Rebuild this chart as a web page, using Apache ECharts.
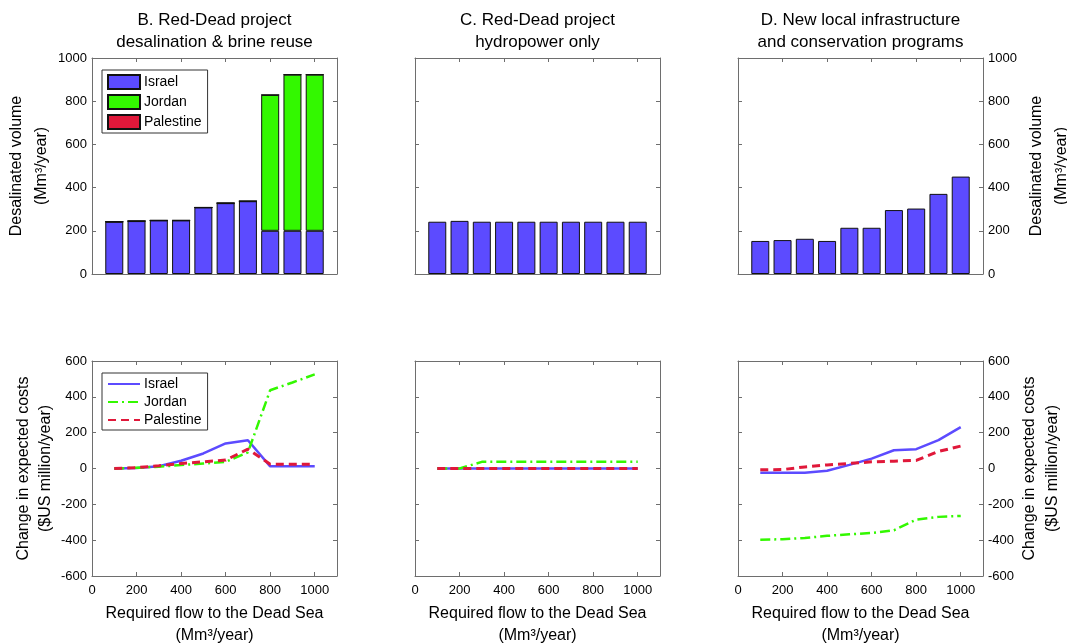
<!DOCTYPE html>
<html>
<head>
<meta charset="utf-8">
<script src="https://cdn.jsdelivr.net/npm/echarts@6/dist/echarts.min.js"></script>
<style>html,body{margin:0;padding:0;background:#fff;}#main{width:1067px;height:644px;}</style>
</head>
<body>
<div id="main"></div>
<script>
// ---- data ----
const flows = [100, 200, 300, 400, 500, 600, 700, 800, 900, 1000];
const barAxisCats = ['0', '100', '200', '300', '400', '500', '600', '700', '800', '900', '1000', '1100'];
const panelTitles = ['B. Red-Dead project\ndesalination & brine reuse', 'C. Red-Dead project\nhydropower only', 'D. New local infrastructure\nand conservation programs'];
const countries = ['Israel', 'Jordan', 'Palestine'];

// Desalinated volume (Mm3/year)
const volB_Israel    = [242, 245, 248, 248, 308, 328, 337, 200, 200, 200];
const volB_Jordan    = [0, 0, 0, 0, 0, 0, 0, 629, 723, 723];
const volB_Palestine = [0, 0, 0, 0, 0, 0, 0, 0, 0, 0];
const volC_Israel    = [242, 246, 242, 242, 242, 242, 242, 242, 242, 242];
const volD_Israel    = [153, 157, 163, 153, 214, 214, 296, 303, 371, 451];

// Change in expected costs ($US million/year)
const costB_Israel    = [0, 3, 13, 43, 84, 140, 158, 12, 12, 12];
const costB_Jordan    = [0, 4, 10, 19, 28, 37, 90, 437, 480, 525];
const costB_Palestine = [0, 5, 15, 28, 37, 47, 108, 24, 24, 24];
const costC_Israel    = [0, 0, 0, 0, 0, 0, 0, 0, 0, 0];
const costC_Jordan    = [0, 0, 37, 37, 37, 37, 37, 37, 37, 37];
const costC_Palestine = [0, 0, 0, 0, 0, 0, 0, 0, 0, 0];
const costD_Israel    = [-24, -24, -24, -13, 20, 55, 102, 108, 158, 231];
const costD_Jordan    = [-397, -395, -388, -376, -367, -360, -345, -285, -270, -265];
const costD_Palestine = [-7, -6, 9, 20, 28, 37, 41, 45, 95, 125];

const volYTicks = [0, 1000, 200];
const costYTicks = [-600, 600, 200];

// ---- styling ----
const FONT = 'Liberation Sans, Arial, Helvetica, sans-serif';
const AXC = '#6e6e6e';
const colors = { Israel: '#5c4bff', Jordan: '#33f800', Palestine: '#e0183a' };
const lineTypes = { Israel: 'solid', Jordan: [10, 4, 2, 4], Palestine: [8, 5] };

const lefts = [92, 415, 738];
const W = 245;
const topRow = { top: 58, height: 216 };
const botRow = { top: 361, height: 215 };

const grids = [], xAxes = [], yAxes = [], series = [];
const pair = (ys) => flows.map((f, i) => [f, ys[i]]);
const catPair = (ys) => flows.map((f, i) => [String(f), ys[i]]);
const plainNum = v => String(v);
const axisLineStyle = { show: true, onZero: false, lineStyle: { color: AXC, width: 1 } };

function valueX(gi, pos, showLabels, name) {
  return {
    type: 'value', gridIndex: gi, position: pos, min: 0, max: 1100, interval: 200,
    axisLine: axisLineStyle,
    axisTick: { show: true, inside: true, length: 4, lineStyle: { color: AXC } },
    axisLabel: { show: showLabels, showMaxLabel: false, formatter: plainNum, color: '#000', fontSize: 13, fontFamily: FONT, margin: 8 },
    splitLine: { show: false },
    name: name || '', nameLocation: 'middle',
    nameGap: pos === 'top' ? 5 : 27,
    nameTextStyle: pos === 'top'
      ? { color: '#000', fontSize: 17, fontFamily: FONT, lineHeight: 22, verticalAlign: 'bottom' }
      : { color: '#000', fontSize: 16, fontFamily: FONT, lineHeight: 22, verticalAlign: 'top' }
  };
}
function catX(gi) {
  return {
    type: 'category', gridIndex: gi, position: 'bottom', data: barAxisCats, boundaryGap: false,
    axisLine: axisLineStyle,
    axisTick: { show: false }, axisLabel: { show: false }, splitLine: { show: false }
  };
}
function baseY(gi, pos, ticks, showLabels, name, gap, lh) {
  return {
    type: 'value', gridIndex: gi, position: pos, min: ticks[0], max: ticks[1], interval: ticks[2],
    axisLine: axisLineStyle,
    axisTick: { show: true, inside: true, length: 4, lineStyle: { color: AXC } },
    axisLabel: { show: showLabels, formatter: plainNum, color: '#000', fontSize: 13, fontFamily: FONT, margin: 5 },
    splitLine: { show: false },
    name: name || '', nameLocation: 'middle', nameRotate: 90, nameGap: gap || 40,
    nameTextStyle: { color: '#000', fontSize: 16, fontFamily: FONT, lineHeight: lh || 24 }
  };
}

const volName = 'Desalinated volume\n(Mm³/year)';
const costName = 'Change in expected costs\n($US million/year)';
const xName = 'Required flow to the Dead Sea\n(Mm³/year)';

const volData = [
  { Israel: volB_Israel, Jordan: volB_Jordan, Palestine: volB_Palestine },
  { Israel: volC_Israel },
  { Israel: volD_Israel }
];
const costData = [
  { Israel: costB_Israel, Jordan: costB_Jordan, Palestine: costB_Palestine },
  { Israel: costC_Israel, Jordan: costC_Jordan, Palestine: costC_Palestine },
  { Israel: costD_Israel, Jordan: costD_Jordan, Palestine: costD_Palestine }
];

function makeGrid(c, row) {
  return { left: lefts[c], width: W, top: row.top, height: row.height, containLabel: false, outerBoundsMode: 'none' };
}

for (let c = 0; c < 3; c++) {
  // top row (bars)
  const gi = grids.length;
  grids.push(makeGrid(c, topRow));
  const xb = xAxes.length;
  xAxes.push(catX(gi));
  xAxes.push(valueX(gi, 'top', false, panelTitles[c]));
  const yb = yAxes.length;
  yAxes.push(baseY(gi, 'left', volYTicks, c === 0, c === 0 ? volName : '', 29, 25));
  yAxes.push(baseY(gi, 'right', volYTicks, c === 2, c === 2 ? volName : '', 41, 25));
  countries.forEach(k => {
    if (!volData[c][k]) return;
    series.push({
      type: 'bar', name: k, xAxisIndex: xb, yAxisIndex: yb, stack: 'vol' + c,
      barWidth: 18, data: catPair(volData[c][k]),
      itemStyle: { color: colors[k], borderColor: '#111', borderWidth: 1 },
      emphasis: { disabled: true }, animation: false
    });
  });
}
for (let c = 0; c < 3; c++) {
  const gi = grids.length;
  grids.push(makeGrid(c, botRow));
  const xb = xAxes.length;
  xAxes.push(valueX(gi, 'bottom', true, xName));
  xAxes.push(valueX(gi, 'top', false));
  const yb = yAxes.length;
  yAxes.push(baseY(gi, 'left', costYTicks, c === 0, c === 0 ? costName : '', 25, 22));
  yAxes.push(baseY(gi, 'right', costYTicks, c === 2, c === 2 ? costName : '', 34, 23));
  countries.forEach(k => {
    series.push({
      type: 'line', name: k + ' cost', xAxisIndex: xb, yAxisIndex: yb,
      data: pair(costData[c][k]), symbol: 'none',
      lineStyle: { color: colors[k], width: k === 'Palestine' ? 3 : 2.5, type: lineTypes[k] },
      itemStyle: { color: colors[k] },
      emphasis: { disabled: true }, animation: false
    });
  });
}

const legendCommon = {
  orient: 'vertical', left: 102, itemWidth: 32, itemHeight: 14, itemGap: 4,
  padding: [4, 6, 3, 5], borderColor: '#333', borderWidth: 1, backgroundColor: '#fff',
  textStyle: { color: '#000', fontSize: 14, fontFamily: FONT, padding: [0, 0, 0, -1] },
  selectedMode: false, z: 10
};
const option = {
  backgroundColor: '#fff',
  animation: false,
  textStyle: { fontFamily: FONT },
  grid: grids, xAxis: xAxes, yAxis: yAxes, series: series,
  legend: [
    Object.assign({}, legendCommon, { top: 70, data: countries.map(k => ({ name: k, icon: 'rect' })) }),
    Object.assign({}, legendCommon, { top: 373, data: countries.map(k => k + ' cost'),
      itemStyle: { color: 'rgba(0,0,0,0)', borderColor: 'rgba(0,0,0,0)', borderWidth: 0 },
      formatter: n => n.replace(' cost', '') })
  ]
};
const chart = echarts.init(document.getElementById('main'), null, { renderer: 'canvas' });
chart.setOption(option);
</script>
</body>
</html>
